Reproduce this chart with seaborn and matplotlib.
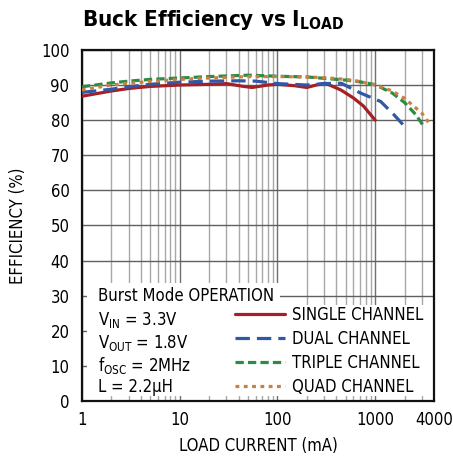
import numpy as np
import pandas as pd
import matplotlib
matplotlib.use("Agg")
import matplotlib.pyplot as plt
from matplotlib import font_manager
from matplotlib.patches import Rectangle
import seaborn as sns

# data (load current in mA, efficiency in %)
single_x = [1, 2, 3, 5, 10, 20, 30, 45, 55, 80, 100, 150, 200, 250, 310, 445, 600, 760, 1000]
single_y = [86.8, 88.3, 89.0, 89.6, 90.0, 90.2, 90.4, 89.6, 89.3, 90.0, 90.2, 89.8, 89.3, 90.0, 90.5, 88.6, 86.3, 84.0, 80.0]

dual_x = [1, 2, 3, 5, 10, 20, 40, 60, 100, 200, 300, 450, 710, 1140, 1550, 2050]
dual_y = [87.9, 88.8, 89.5, 90.2, 90.8, 91.1, 91.2, 91.1, 90.4, 90.0, 90.4, 90.5, 87.7, 85.3, 81.6, 77.9]

triple_x = [1, 2, 3, 5, 10, 20, 50, 100, 200, 300, 500, 700, 1000, 1500, 2000, 2600, 3150]
triple_y = [89.5, 90.6, 91.1, 91.6, 92.0, 92.4, 92.8, 92.5, 92.3, 91.9, 91.4, 90.9, 90.1, 87.7, 85.0, 81.6, 78.2]

quad_x = [1, 2, 3, 5, 10, 20, 50, 100, 200, 300, 500, 700, 1000, 1500, 2000, 3000, 3700]
quad_y = [88.6, 90.0, 90.5, 91.0, 91.6, 92.0, 92.4, 92.4, 92.3, 92.1, 91.6, 91.0, 90.0, 88.3, 86.2, 82.0, 78.5]

labels = ["SINGLE CHANNEL", "DUAL CHANNEL", "TRIPLE CHANNEL", "QUAD CHANNEL"]
colors = ["#a51f24", "#3057a8", "#2e8b45", "#c98140"]
styles = ["-", (0, (4.5, 2.2)), (0, (2.6, 1.3)), (0, (1.2, 1.4))]

x_ticks = [1, 10, 100, 1000, 4000]
y_ticks = list(range(0, 101, 10))

sns.set_style("white")

# pick a narrow sans if there is one, the reference uses a condensed face
names = {(f.name, f.stretch) for f in font_manager.fontManager.ttflist}
if any(n == "Liberation Sans Narrow" for n, _ in names):
    face, stretch, fs = "Liberation Sans Narrow", "normal", 12.5
elif ("DejaVu Sans", "condensed") in names or ("DejaVu Sans", "semi-condensed") in names:
    face, stretch, fs = "DejaVu Sans", "condensed", 12
else:
    face, stretch, fs = "Liberation Sans", "normal", 11.5
plt.rcParams["font.family"] = [face, "DejaVu Sans"]
plt.rcParams["font.stretch"] = stretch
plt.rcParams["mathtext.fontset"] = "custom"
plt.rcParams["mathtext.rm"] = face
plt.rcParams["mathtext.bf"] = face + ":bold"
for k in ["text.color", "axes.labelcolor", "xtick.color", "ytick.color"]:
    plt.rcParams[k] = "black"

fig = plt.figure(figsize=(4.53, 4.62), dpi=100)
ax = fig.add_axes([0.181, 0.132, 0.777, 0.760])

series = [(single_x, single_y), (dual_x, dual_y), (triple_x, triple_y), (quad_x, quad_y)]
for (xs, ys), lab, c, ls in zip(series, labels, colors, styles):
    df = pd.DataFrame({"x": xs, "y": ys})
    sns.lineplot(data=df, x="x", y="y", ax=ax, color=c, lw=2.3, linestyle=ls,
                 label=lab, zorder=5)

ax.set_xscale("log")
ax.set_xlim(1, 4000)
ax.set_ylim(0, 100)
ax.set_xticks(x_ticks)
ax.set_xticklabels([str(t) for t in x_ticks])
ax.set_yticks(y_ticks)
ax.tick_params(axis="both", which="both", direction="in", labelsize=fs, length=0)
ax.tick_params(axis="y", pad=9)
ax.tick_params(axis="x", pad=7)

# grid: vertical at every decade step, horizontal at every 10 %
ax.grid(True, which="minor", axis="x", color="#a8a8a8", lw=1.0)
ax.grid(True, which="major", axis="x", color="#707070", lw=1.0)
ax.grid(True, which="major", axis="y", color="#606060", lw=1.0)

for s in ax.spines.values():
    s.set_color("#111111")
    s.set_linewidth(1.6)

# white blocks behind the annotation and the legend
ax.add_patch(Rectangle((1.12, 1.4), 107 - 1.12, 33.6 - 1.4, facecolor="white",
                       edgecolor="none", zorder=2))
ax.add_patch(Rectangle((30, 1.4), 4000 - 30, 27.3 - 1.4, facecolor="white",
                       edgecolor="none", zorder=2))

notes = ["Burst Mode OPERATION",
         r"V$_{\mathregular{IN}}$ = 3.3V",
         r"V$_{\mathregular{OUT}}$ = 1.8V",
         r"f$_{\mathregular{OSC}}$ = 2MHz",
         "L = 2.2\u03bcH"]
note_y = [30.0, 23.0, 16.5, 10.0, 4.0]
for t, yv in zip(notes, note_y):
    ax.text(1.45, yv, t, fontsize=fs, va="center", ha="left", zorder=6)

leg = ax.legend(loc="lower left", bbox_to_anchor=(0.435, 0.014), frameon=False,
                fontsize=fs, handlelength=3.0, handletextpad=0.4,
                labelspacing=0.36, borderaxespad=0, borderpad=0)
leg.set_zorder(6)

ax.set_xlabel("LOAD CURRENT (mA)", fontsize=fs, labelpad=6)
ax.set_ylabel("EFFICIENCY (%)", fontsize=fs, labelpad=10)

fig.text(82 / 453, 1 - 20 / 462, r"Buck Efficiency vs I$_{\mathbf{LOAD}}$",
         fontsize=16, fontweight="bold", ha="left", va="center")

fig.savefig("out.png", dpi=100)
